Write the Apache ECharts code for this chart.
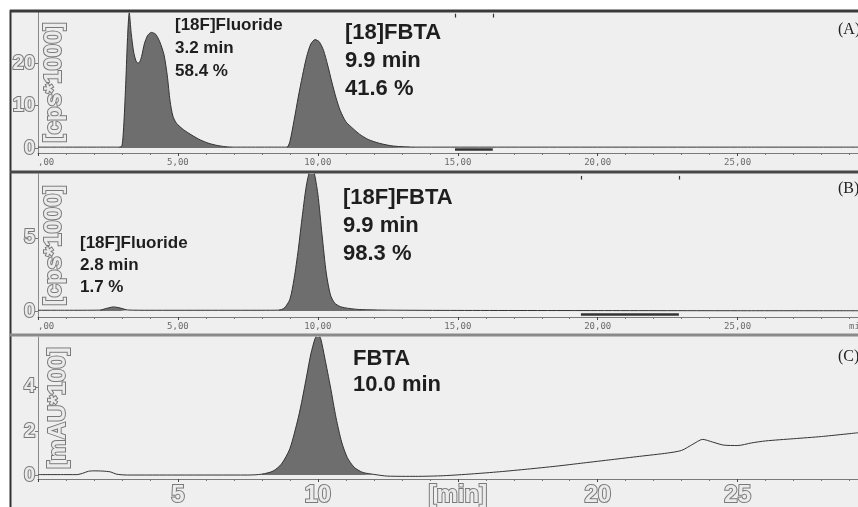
<!DOCTYPE html>
<html>
<head>
<meta charset="utf-8">
<script src="https://cdn.jsdelivr.net/npm/echarts@6/dist/echarts.min.js"></script>
<style>
html, body { margin: 0; padding: 0; background: #fff; }
#chart { width: 858px; height: 507px; }
</style>
</head>
<body>
<div id="chart"></div>
<script>
// (A) radio trace, cps*1000
const timeA = [0, 1, 2, 2.9, 3.0, 3.07, 3.14, 3.2, 3.26, 3.33, 3.42, 3.52, 3.6, 3.7, 3.8, 3.92, 4.05, 4.2, 4.35, 4.5, 4.62, 4.72, 4.82, 4.95, 5.2, 5.5, 5.8, 6.1, 6.4, 6.7, 7.0, 8.0, 8.9, 9.0, 9.15, 9.3, 9.45, 9.6, 9.75, 9.9, 10.05, 10.2, 10.35, 10.5, 10.65, 10.8, 11.0, 11.25, 11.5, 11.8, 12.2, 12.7, 13.5, 16, 20, 25, 29.3];
const signalA = [0.2, 0.2, 0.2, 0.2, 0.5, 6, 16, 26, 31.8, 27, 22.5, 20.2, 20, 21.5, 24.5, 26.5, 27.2, 26.8, 25, 22, 17, 11, 7.5, 5.8, 4.3, 3.0, 1.9, 1.1, 0.6, 0.3, 0.2, 0.2, 0.2, 1.5, 6.5, 12, 17, 21.5, 24.5, 25.5, 25, 23, 19.5, 15.5, 11.8, 8.8, 6.2, 4.6, 3.2, 2.0, 1.1, 0.45, 0.2, 0.2, 0.2, 0.2, 0.2];
const fillA = [[2.9, 7.0], [8.9, 13.5]];

// (B) radio trace, cps*1000
const timeB = [0, 1, 2.2, 2.45, 2.7, 2.95, 3.2, 4, 6, 8, 8.6, 8.8, 9.0, 9.15, 9.3, 9.45, 9.6, 9.75, 9.85, 10.0, 10.15, 10.3, 10.45, 10.6, 10.8, 11.1, 11.5, 12.5, 15, 20, 25, 29.3];
const signalB = [0.05, 0.05, 0.06, 0.18, 0.28, 0.2, 0.07, 0.05, 0.05, 0.05, 0.06, 0.2, 0.8, 2.2, 4.2, 6.6, 8.7, 9.7, 9.6, 8.0, 5.2, 2.6, 1.1, 0.55, 0.3, 0.18, 0.1, 0.06, 0.04, 0.03, 0.02, 0.02];
const fillB = [[2.2, 3.2], [8.6, 12.5]];

// (C) UV trace, mAU*100
const timeC = [0, 1.4, 1.6, 1.8, 2.0, 2.3, 2.6, 2.8, 3.2, 5, 7.5, 8.0, 8.4, 8.7, 9.0, 9.3, 9.45, 9.6, 9.75, 9.9, 10.0, 10.1, 10.25, 10.45, 10.65, 10.85, 11.05, 11.3, 11.6, 12.0, 12.5, 13.5, 14.5, 15.5, 16.5, 17.5, 18.5, 19.5, 20.5, 21.5, 22.5, 23.0, 23.4, 23.75, 24.1, 24.5, 25.0, 25.5, 26.0, 27.0, 28.0, 29.3];
const signalC = [0.02, 0.02, 0.08, 0.17, 0.19, 0.18, 0.14, 0.04, 0.0, 0.0, 0.0, 0.04, 0.18, 0.5, 1.2, 2.6, 3.5, 4.5, 5.5, 6.2, 6.4, 6.2, 5.3, 4.0, 2.6, 1.5, 0.8, 0.35, 0.12, 0.03, -0.05, -0.06, -0.03, 0.05, 0.15, 0.27, 0.4, 0.55, 0.7, 0.85, 1.0, 1.12, 1.4, 1.62, 1.5, 1.36, 1.34, 1.46, 1.55, 1.65, 1.75, 1.92];
const fillC = [[8.0, 12.0]];

// integration markers [start, end]
const barA = [14.9, 16.25];
const barB = [19.4, 22.9];

const yTicksA = [0, 10, 20];
const yTicksB = [0, 5];
const yTicksC = [0, 2, 4];
const xLabelsC = { 5: '5', 10: '10', 15: '[min]', 20: '20', 25: '25' };

const chart = echarts.init(document.getElementById('chart'));

const BG = '#efefef';
const hollow = {
  color: '#ebebeb', textBorderColor: '#7a7a7a', textBorderWidth: 2,
  fontFamily: 'Liberation Sans', fontWeight: 'bold'
};
const grids = [
  { left: 38, right: 0, top: 12, height: 141, outerBoundsMode: 'none', containLabel: false },
  { left: 38, right: 0, top: 174, height: 143, outerBoundsMode: 'none', containLabel: false },
  { left: 38, right: 0, top: 337, height: 142, outerBoundsMode: 'none', containLabel: false }
];

function pairs(t, v) {
  return t.map((x, i) => [x, v[i]]);
}
function windowed(t, v, wins) {
  return t.map((x, i) => wins.some(w => x >= w[0] && x <= w[1]) ? [x, v[i]] : [x, null]);
}

function smallXAxis(gi) {
  return {
    type: 'value', gridIndex: gi, min: 0, max: 29.3, interval: 5,
    axisLine: { show: true, onZero: false, lineStyle: { color: '#7a7a7a', width: 1 } },
    axisTick: { show: true, length: 3, lineStyle: { color: '#444' } },
    minorTick: { show: true, splitNumber: 5, length: 2, lineStyle: { color: '#777' } },
    splitLine: { show: false },
    axisLabel: {
      margin: 5, fontFamily: 'DejaVu Sans Mono', fontSize: 9, color: '#6a6a6a',
      alignMinLabel: 'left', showMaxLabel: false,
      formatter: v => v === 0 ? ',00' : v + ',00'
    }
  };
}

function yAxisFor(gi, min, max, ticks, name, nameGap) {
  return {
    type: 'value', gridIndex: gi, min: min, max: max,
    axisLine: { show: true, lineStyle: { color: '#8a8a8a' } },
    axisTick: { show: true, length: 3, customValues: ticks, lineStyle: { color: '#777' } },
    axisLabel: Object.assign({ margin: 3, fontSize: 20, customValues: ticks }, hollow),
    splitLine: { show: false },
    name: name, nameLocation: 'middle', nameRotate: 90, nameGap: nameGap,
    nameMoveOverlap: false,
    nameTextStyle: Object.assign({ fontSize: 24 }, hollow)
  };
}

function traceSeries(gi, t, v, wins, marks) {
  return [
    {
      type: 'line', xAxisIndex: gi, yAxisIndex: gi, data: windowed(t, v, wins),
      showSymbol: false, smooth: 0.25, connectNulls: false, z: 2,
      lineStyle: { width: 0 }, areaStyle: { color: '#6e6e6e', opacity: 1 }
    },
    {
      type: 'line', xAxisIndex: gi, yAxisIndex: gi, data: pairs(t, v),
      showSymbol: false, smooth: 0.25, z: 3,
      lineStyle: { color: '#333', width: 1 },
      markLine: marks ? {
        silent: true, symbol: 'none', label: { show: false },
        lineStyle: { color: '#333', width: 2.5, type: 'solid' },
        data: marks
      } : undefined
    }
  ];
}

function bracket(bar, yBot, yTop, yTick) {
  return [
    [{ coord: [bar[0], yBot] }, { coord: [bar[1], yBot] }],
    [{ coord: [bar[0], yTop], lineStyle: { width: 1.2 } }, { coord: [bar[0], yTick] }],
    [{ coord: [bar[1], yTop], lineStyle: { width: 1.2 } }, { coord: [bar[1], yTick] }]
  ];
}

const textBold = 'bold 17px "Liberation Sans"';
const textBig = 'bold 22px "Liberation Sans"';

const option = {
  backgroundColor: BG,
  animation: false,
  grid: grids,
  xAxis: [
    smallXAxis(0),
    smallXAxis(1),
    {
      type: 'value', gridIndex: 2, min: 0, max: 29.3, interval: 5,
      axisLine: { show: true, onZero: false, lineStyle: { color: '#7a7a7a' } },
      axisTick: { show: true, length: 3, lineStyle: { color: '#444' } },
      minorTick: { show: true, splitNumber: 5, length: 2, lineStyle: { color: '#777' } },
      splitLine: { show: false },
      axisLabel: Object.assign({
        margin: 4, fontSize: 24, showMaxLabel: false,
        formatter: v => xLabelsC[v] || ''
      }, hollow)
    }
  ],
  yAxis: [
    yAxisFor(0, -1.18, 32, yTicksA, '[cps*1000]', -28),
    yAxisFor(1, -0.41, 9.38, yTicksB, '[cps*1000]', -28),
    yAxisFor(2, -0.18, 6.27, yTicksC, '[mAU*100]', -32)
  ],
  series: [
    ...traceSeries(0, timeA, signalA, fillA, bracket(barA, -0.2, 31.6, 30.7)),
    ...traceSeries(1, timeB, signalB, fillB, bracket(barB, -0.2, 9.25, 9.0)),
    ...traceSeries(2, timeC, signalC, fillC, null)
  ],
  graphic: [
    { type: 'rect', left: 0, top: 0, shape: { width: 858, height: 10 }, style: { fill: '#fff' }, z: 50 },
    { type: 'rect', left: 0, top: 0, shape: { width: 10, height: 507 }, style: { fill: '#fff' }, z: 50 },
    { type: 'line', shape: { x1: 10.5, y1: 10, x2: 10.5, y2: 507 }, style: { stroke: '#333', lineWidth: 2 }, z: 51 },
    { type: 'line', shape: { x1: 10, y1: 11, x2: 858, y2: 11 }, style: { stroke: '#3a3a3a', lineWidth: 3 }, z: 51 },
    { type: 'line', shape: { x1: 10, y1: 172, x2: 858, y2: 172 }, style: { stroke: '#484848', lineWidth: 3 }, z: 51 },
    { type: 'line', shape: { x1: 10, y1: 335, x2: 858, y2: 335 }, style: { stroke: '#8a8a8a', lineWidth: 3 }, z: 51 },
    { type: 'text', left: 838, top: 22, style: { text: '(A)', font: '16px "Liberation Serif"', fill: '#222' }, z: 60 },
    { type: 'text', left: 838, top: 181, style: { text: '(B)', font: '16px "Liberation Serif"', fill: '#222' }, z: 60 },
    { type: 'text', left: 838, top: 349, style: { text: '(C)', font: '16px "Liberation Serif"', fill: '#222' }, z: 60 },
    { type: 'text', left: 849, top: 322, style: { text: 'min', font: '9px "DejaVu Sans Mono"', fill: '#6a6a6a' }, z: 60 },
    { type: 'text', left: 175, top: 14, style: { text: '[18F]Fluoride\n3.2 min\n58.4 %', font: textBold, lineHeight: 23, fill: '#1e1e1e' }, z: 60 },
    { type: 'text', left: 345, top: 19, style: { text: '[18]FBTA\n9.9 min\n41.6 %', font: textBig, lineHeight: 28, fill: '#1e1e1e' }, z: 60 },
    { type: 'text', left: 80, top: 232, style: { text: '[18F]Fluoride\n2.8 min\n1.7 %', font: textBold, lineHeight: 22, fill: '#1e1e1e' }, z: 60 },
    { type: 'text', left: 343, top: 184, style: { text: '[18F]FBTA\n9.9 min\n98.3 %', font: textBig, lineHeight: 28, fill: '#1e1e1e' }, z: 60 },
    { type: 'text', left: 353, top: 346, style: { text: 'FBTA\n10.0 min', font: textBig, lineHeight: 26, fill: '#1e1e1e' }, z: 60 }
  ]
};

chart.setOption(option);
</script>
</body>
</html>
